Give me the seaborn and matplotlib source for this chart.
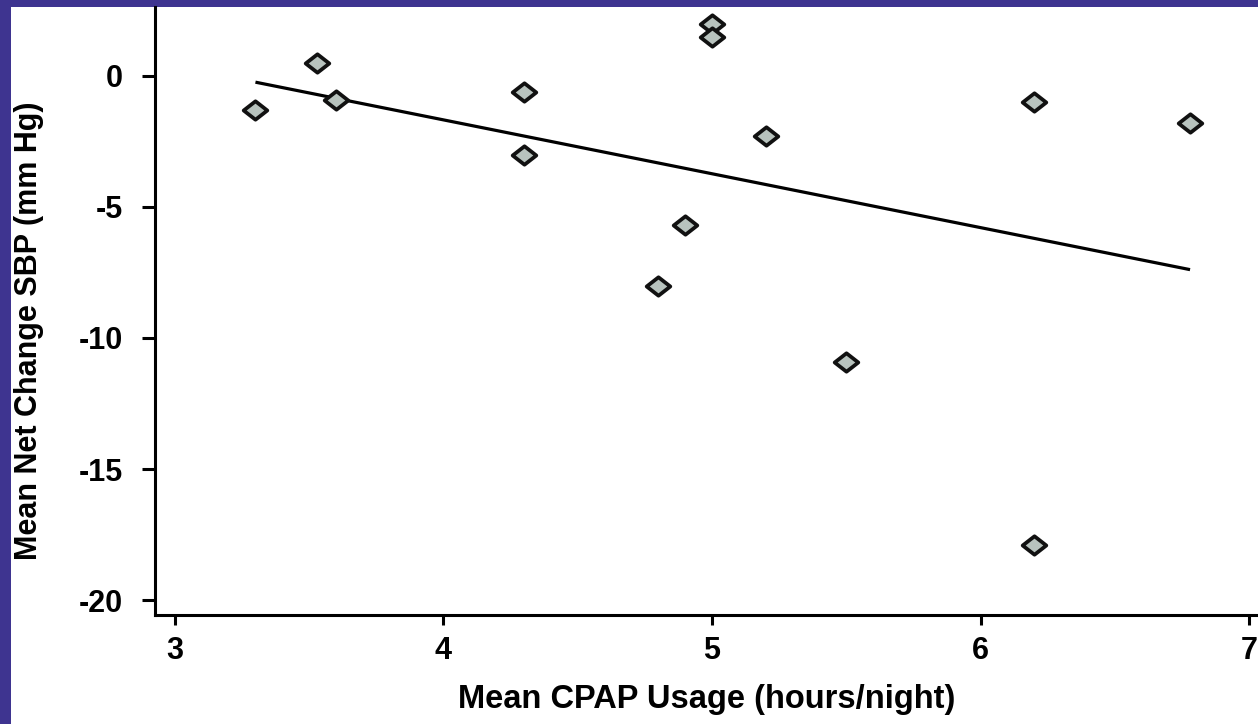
import numpy as np
import pandas as pd
import matplotlib
matplotlib.use("Agg")
import matplotlib.pyplot as plt
from matplotlib.patches import Rectangle
from matplotlib.path import Path
import seaborn as sns

# Mean CPAP usage per study vs. mean net change in systolic blood pressure
cpap_hours = [3.30, 3.53, 3.60, 4.30, 4.30, 5.00, 5.00, 5.20, 4.90, 4.80, 5.50, 6.20, 6.20, 6.78]
sbp_change = [-1.3, 0.5, -0.9, -0.6, -3.0, 2.0, 1.5, -2.3, -5.7, -8.0, -10.9, -1.0, -17.9, -1.8]

x_ticks = [3, 4, 5, 6, 7]
y_ticks = [0, -5, -10, -15, -20]

x_label = "Mean CPAP Usage (hours/night)"
y_label = "Mean Net Change SBP (mm Hg)"

sns.set_theme(style="ticks")
plt.rcParams["font.family"] = ["Liberation Sans", "DejaVu Sans"]
plt.rcParams["font.weight"] = "bold"
plt.rcParams["axes.labelweight"] = "bold"

W, H = 1258, 724
fig = plt.figure(figsize=(W / 100, H / 100), dpi=100)
fig.patch.set_facecolor("white")

# purple slide frame along the top and left edges
frame = "#3e3490"
fig.patches.append(Rectangle((0, 0), 11 / W, 1, transform=fig.transFigure,
                             facecolor=frame, edgecolor="none", zorder=-1))
fig.patches.append(Rectangle((0, 1 - 7 / H), 1, 7 / H, transform=fig.transFigure,
                             facecolor=frame, edgecolor="none", zorder=-1))

ax = fig.add_axes([155 / W, (H - 615) / H, (W - 155) / W, (615 - 7) / H])
ax.set_facecolor("white")

df = pd.DataFrame({"cpap": cpap_hours, "sbp": sbp_change})

# least-squares fit line over the observed range
sns.regplot(data=df, x="cpap", y="sbp", scatter=False, ci=None, truncate=True,
            color="black", line_kws=dict(lw=2.3, solid_capstyle="butt"), ax=ax)

# flat diamond markers
diamond = Path([(-1, 0), (0, 0.78), (1, 0), (0, -0.78), (-1, 0)],
               [Path.MOVETO, Path.LINETO, Path.LINETO, Path.LINETO, Path.CLOSEPOLY])
sns.scatterplot(data=df, x="cpap", y="sbp", marker=diamond, s=290,
                color="#b8c3be", edgecolor="#111111", linewidth=2.7,
                zorder=3, ax=ax, legend=False)

ax.set_xlim(2.926, 7.033)
ax.set_ylim(-20.57, 2.63)
ax.set_xticks(x_ticks)
ax.set_yticks(y_ticks)
ax.set_xticklabels([str(t) for t in x_ticks])
ax.set_yticklabels([str(t) for t in y_ticks])

for side in ("top", "right"):
    ax.spines[side].set_visible(False)
for side in ("left", "bottom"):
    ax.spines[side].set_linewidth(2.2)
    ax.spines[side].set_color("black")

ax.tick_params(axis="y", direction="out", length=9.4, width=2.2, pad=13.5,
               labelsize=22, colors="black")
ax.tick_params(axis="x", direction="out", length=7, width=2.2, pad=8,
               labelsize=22, colors="black")

ax.set_xlabel(x_label, fontsize=23.5, color="black", labelpad=13)
ax.set_ylabel(y_label, fontsize=22, color="black")
ax.yaxis.set_label_coords(-0.1005, 0.467)

fig.savefig("out.png", dpi=100, facecolor=fig.get_facecolor())
